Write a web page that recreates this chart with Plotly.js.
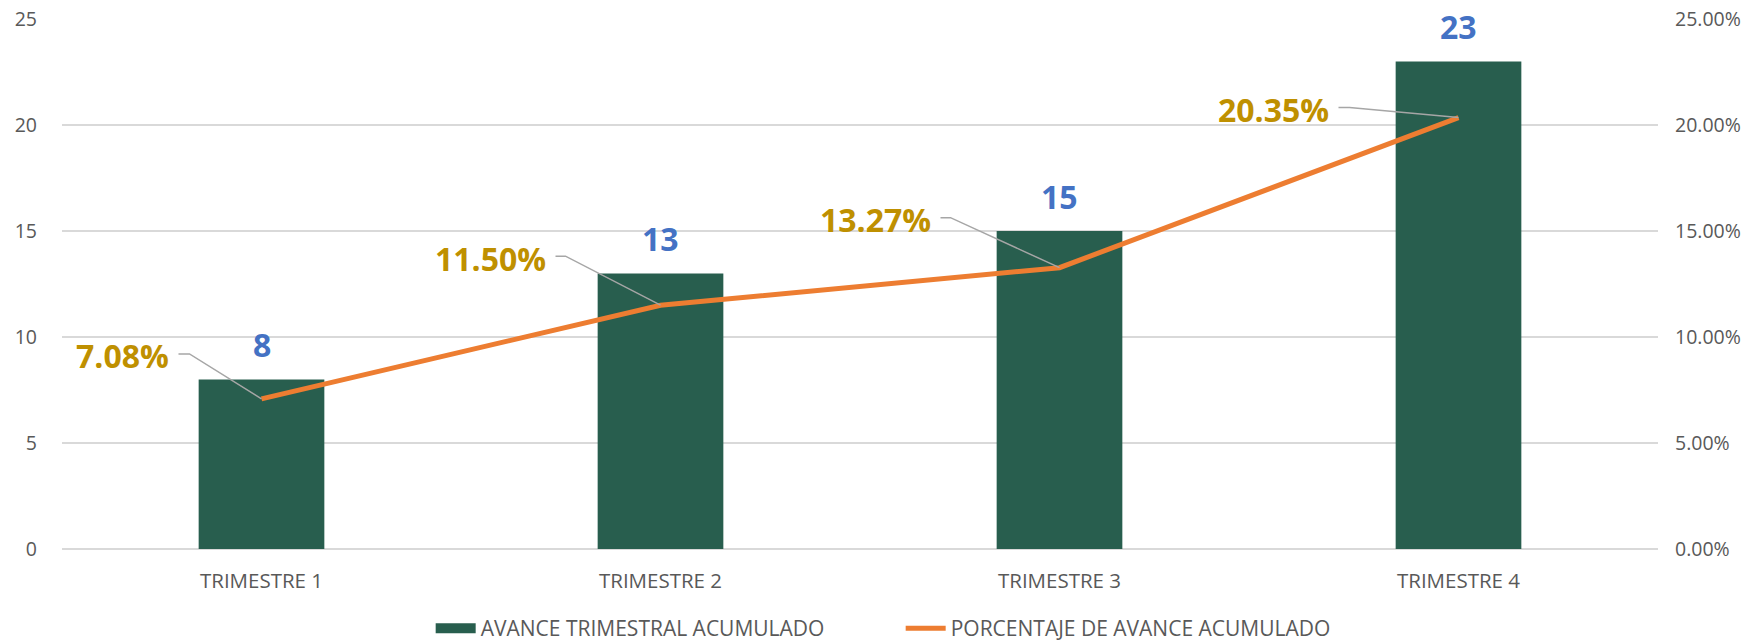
<!DOCTYPE html>
<html>
<head>
<meta charset="utf-8">
<script src="https://cdn.plot.ly/plotly-3.0.1.min.js"></script>
<style>html,body{margin:0;padding:0;background:#fff;}#chart{width:1763px;height:644px;}</style>
</head>
<body>
<div id="chart"></div>
<script>
// ---- data ----
const categories = ["TRIMESTRE 1", "TRIMESTRE 2", "TRIMESTRE 3", "TRIMESTRE 4"];
const avanceTrimestral = [8, 13, 15, 23];
const porcentajeAvance = [0.0708, 0.1150, 0.1327, 0.2035];
const leftTicks = [0, 5, 10, 15, 20, 25];
const rightTicks = [0, 0.05, 0.10, 0.15, 0.20, 0.25];
const seriesNames = ["AVANCE TRIMESTRAL ACUMULADO", "PORCENTAJE DE AVANCE ACUMULADO"];

// ---- label leader geometry (pixel offsets, styling only) ----
const leaderGeom = [
  {dx: -72, dy: 45, hx: -83},
  {dx: -95, dy: 49, hx: -105},
  {dx: -109, dy: 50, hx: -119},
  {dx: -109, dy: 10, hx: -120}
];

const FONT = "Open Sans, Noto Sans, sans-serif";
const GRAY = "#595959";
const BAR_COLOR = "#285E4E";

const barTrace = {
  type: "bar",
  x: categories,
  y: avanceTrimestral,
  name: seriesNames[0],
  marker: {color: BAR_COLOR},
  width: 0.315,
  yaxis: "y",
  showlegend: false,
  hoverinfo: "skip"
};
// legend entry for the bars with a wide rectangular swatch
const barLegend = {
  type: "scatter", mode: "lines",
  x: [null], y: [null],
  name: seriesNames[0],
  line: {color: BAR_COLOR, width: 15},
  hoverinfo: "skip"
};
const lineTrace = {
  type: "scatter",
  mode: "lines",
  x: categories,
  y: porcentajeAvance,
  name: seriesNames[1],
  line: {color: "#ED7D31", width: 5},
  yaxis: "y2",
  hoverinfo: "skip"
};

const annotations = [];
const shapes = [];
categories.forEach((c, i) => {
  annotations.push({
    x: c, y: avanceTrimestral[i], xref: "x", yref: "y",
    text: String(avanceTrimestral[i]),
    showarrow: false, yanchor: "bottom", yshift: 11,
    font: {family: FONT, size: 32, color: "#4472C4", weight: "bold"}
  });
  const g = leaderGeom[i];
  annotations.push({
    x: c, y: porcentajeAvance[i], xref: "x", yref: "y2",
    text: (porcentajeAvance[i] * 100).toFixed(2) + "%",
    showarrow: false, xanchor: "right", yanchor: "middle",
    xshift: g.hx - 8, yshift: g.dy - 2,
    font: {family: FONT, size: 32, color: "#BF9000", weight: "bold"}
  });
  shapes.push({
    type: "path", xref: "x", yref: "y2",
    xsizemode: "pixel", ysizemode: "pixel",
    xanchor: c, yanchor: porcentajeAvance[i],
    path: `M0,0 L${g.dx},${g.dy} L${g.hx},${g.dy}`,
    line: {color: "#A6A6A6", width: 1.5},
    layer: "above"
  });
});

const layout = {
  width: 1763, height: 644,
  margin: {l: 62, r: 105, t: 19, b: 95, pad: 0, autoexpand: false},
  paper_bgcolor: "#ffffff",
  plot_bgcolor: "#ffffff",
  font: {family: FONT, size: 20, color: GRAY},
  showlegend: true,
  legend: {
    orientation: "h", x: 0.231, xanchor: "left",
    y: -0.15, yanchor: "middle",
    font: {family: FONT, size: 21, color: GRAY},
    traceorder: "normal", itemwidth: 40,
    entrywidth: 415, entrywidthmode: "pixels"
  },
  xaxis: {
    type: "category",
    showgrid: false, zeroline: false, showline: false,
    ticks: "", ticklabelstandoff: 17,
    tickfont: {family: FONT, size: 20.5, color: GRAY}
  },
  yaxis: {
    range: [0, 25], tickvals: leftTicks,
    showgrid: true, gridcolor: "#D9D9D9", gridwidth: 1.5,
    zeroline: true, zerolinecolor: "#D9D9D9", zerolinewidth: 1.5,
    showline: false, ticks: "",
    ticklabelstandoff: 24,
    tickfont: {family: FONT, size: 19.5, color: GRAY}
  },
  yaxis2: {
    range: [0, 0.25], tickvals: rightTicks, tickformat: ".2%",
    overlaying: "y", side: "right",
    showgrid: false, zeroline: false, showline: false, ticks: "",
    ticklabelstandoff: 16,
    tickfont: {family: FONT, size: 19.5, color: GRAY}
  },
  annotations: annotations,
  shapes: shapes
};

Plotly.newPlot("chart", [barTrace, barLegend, lineTrace], layout, {displayModeBar: false, staticPlot: true});
</script>
</body>
</html>
